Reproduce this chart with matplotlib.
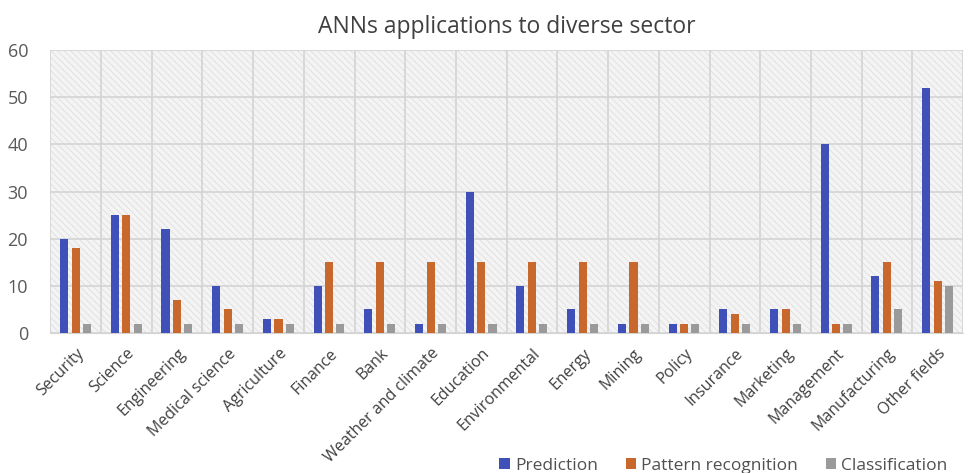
import numpy as np
import matplotlib
matplotlib.use('Agg')
import matplotlib.pyplot as plt
from matplotlib.patches import Rectangle

plt.rcParams['font.family'] = ['Open Sans', 'DejaVu Sans']
plt.rcParams['hatch.color'] = '#dcdcdc'
plt.rcParams['hatch.linewidth'] = 0.6

sectors = ['Security', 'Science', 'Engineering', 'Medical science', 'Agriculture',
           'Finance', 'Bank', 'Weather and climate', 'Education', 'Environmental',
           'Energy', 'Mining', 'Policy', 'Insurance', 'Marketing', 'Management',
           'Manufacturing', 'Other fields']
prediction = [20, 25, 22, 10, 3, 10, 5, 2, 30, 10, 5, 2, 2, 5, 5, 40, 12, 52]
pattern = [18, 25, 7, 5, 3, 15, 15, 15, 15, 15, 15, 15, 2, 4, 5, 2, 15, 11]
classification = [2, 2, 2, 2, 2, 2, 2, 2, 2, 2, 2, 2, 2, 2, 2, 2, 5, 10]

fig = plt.figure(figsize=(9.68, 4.73), dpi=100)
ax = fig.add_axes([0.052, 0.296, 0.943, 0.598])

x = np.arange(len(sectors))
w = 0.16
ax.bar(x - 0.23, prediction, w, color='#3f51b8', label='Prediction', zorder=3)
ax.bar(x, pattern, w, color='#c8682c', label='Pattern recognition', zorder=3)
ax.bar(x + 0.22, classification, w, color='#9a9a9a', label='Classification', zorder=3)

ax.set_xlim(-0.5, len(sectors) - 0.5)
ax.set_ylim(0, 60)
ax.set_yticks(range(0, 61, 10))
ax.set_facecolor('#f4f4f4')
ax.add_patch(Rectangle((0, 0), 1, 1, transform=ax.transAxes, facecolor='none',
                       hatch='\\\\\\\\\\', edgecolor='#dedede', linewidth=0, zorder=0))

ax.set_xticks(x)
ax.set_xticklabels(sectors, rotation=45, ha='right', rotation_mode='anchor',
                   fontsize=11.5, color='#404040')
ax.set_xticks(np.arange(-0.5, len(sectors), 1), minor=True)
ax.grid(True, which='minor', axis='x', color='#d4d4d4', linewidth=1.2, zorder=1)
ax.grid(True, which='major', axis='y', color='#d4d4d4', linewidth=1.2, zorder=1)
ax.tick_params(axis='both', which='both', length=0)
ax.tick_params(axis='y', labelsize=13, labelcolor='#595959', pad=16)
ax.tick_params(axis='x', pad=9)
for s in ['top', 'right', 'left']:
    ax.spines[s].set_visible(False)
ax.spines['bottom'].set_color('#d4d4d4')

ax.set_title('ANNs applications to diverse sector', fontsize=16.5, color='#404040', pad=12)

fig.legend(loc='lower right', bbox_to_anchor=(0.995, -0.035), ncol=3, frameon=False,
           fontsize=12.5, handlelength=0.6, handleheight=0.6, handletextpad=0.3,
           columnspacing=1.6, labelcolor='#505050')

fig.savefig('out.png', dpi=100)
